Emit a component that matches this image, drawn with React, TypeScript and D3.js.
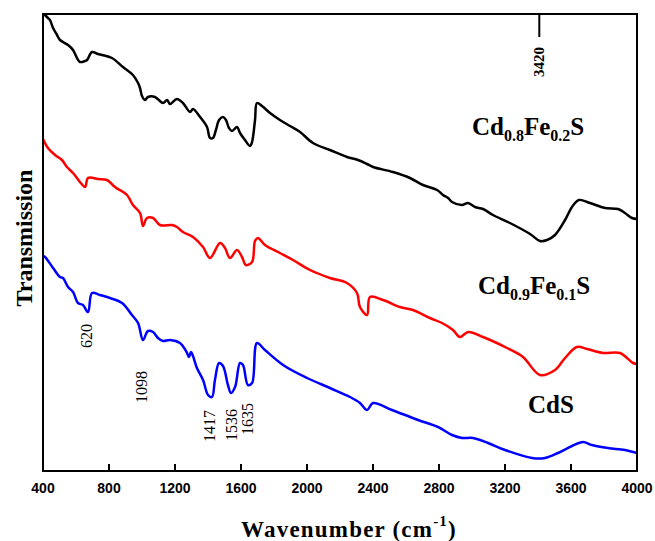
import React from "react";
import * as d3 from "d3";

// ---------- data (wavenumber in cm^-1, transmission in arbitrary units) ----------
const blackWn = [400, 412, 430, 442, 461, 485, 503, 552, 582, 606, 624, 655, 667, 697, 733, 758, 818, 885, 945, 976, 988, 1000, 1018, 1036, 1079, 1127, 1152, 1170, 1212, 1248, 1291, 1309, 1352, 1394, 1412, 1430, 1448, 1467, 1491, 1509, 1527, 1545, 1576, 1594, 1624, 1655, 1667, 1685, 1697, 1727, 1776, 1836, 1897, 1958, 2036, 2139, 2242, 2309, 2364, 2400, 2521, 2624, 2703, 2788, 2824, 2855, 2879, 2939, 2976, 3018, 3067, 3127, 3230, 3352, 3412, 3455, 3503, 3564, 3606, 3648, 3715, 3806, 3885, 3927, 3970, 4000];
const blackT = [458, 456, 453, 451, 443, 436, 431, 426, 421, 413, 409, 410, 411, 419, 417, 416, 413, 404, 396, 388, 383, 375, 371, 374, 374, 368, 371, 367, 372, 368, 359, 362, 354, 344, 333, 333, 341, 351, 354, 351, 343, 340, 344, 338, 331, 325, 329, 351, 368, 365, 358, 351, 345, 339, 328, 321, 314, 311, 307, 304, 299, 293, 286, 281, 276, 273, 269, 266, 268, 264, 262, 256, 248, 237, 230, 231, 236, 251, 264, 271, 268, 263, 262, 258, 253, 252];

const redWn = [400, 430, 473, 515, 545, 582, 624, 655, 673, 733, 788, 836, 909, 945, 988, 1006, 1030, 1067, 1109, 1182, 1212, 1248, 1309, 1370, 1412, 1473, 1503, 1533, 1576, 1606, 1630, 1667, 1685, 1703, 1745, 1836, 1915, 2018, 2139, 2242, 2303, 2321, 2364, 2382, 2461, 2564, 2642, 2745, 2818, 2885, 2927, 2976, 3067, 3212, 3309, 3412, 3503, 3564, 3636, 3697, 3794, 3897, 3976, 4000];
const redT = [332, 323, 316, 311, 304, 298, 289, 284, 293, 292, 291, 284, 276, 266, 258, 245, 253, 253, 246, 246, 244, 239, 234, 224, 213, 228, 223, 213, 221, 214, 206, 209, 230, 233, 226, 218, 211, 201, 193, 188, 178, 164, 156, 174, 171, 164, 161, 153, 148, 141, 134, 139, 134, 123, 114, 96, 101, 113, 124, 122, 118, 118, 108, 107];

const blueWn = [400, 412, 461, 503, 521, 552, 582, 612, 642, 673, 697, 745, 806, 879, 939, 976, 1006, 1036, 1067, 1097, 1127, 1170, 1230, 1270, 1285, 1297, 1309, 1333, 1370, 1400, 1424, 1442, 1467, 1491, 1521, 1539, 1564, 1594, 1612, 1642, 1667, 1697, 1745, 1855, 2000, 2139, 2261, 2321, 2364, 2400, 2515, 2673, 2794, 2879, 2939, 3006, 3097, 3200, 3364, 3442, 3521, 3606, 3673, 3727, 3824, 3927, 4000];
const blueT = [215, 214, 203, 194, 193, 184, 179, 168, 166, 159, 178, 176, 173, 168, 156, 148, 131, 140, 139, 133, 130, 131, 128, 119, 114, 119, 115, 103, 91, 76, 74, 91, 108, 105, 86, 78, 84, 108, 106, 86, 88, 128, 121, 106, 93, 83, 74, 68, 61, 68, 61, 51, 44, 36, 33, 33, 28, 21, 13, 13, 18, 25, 29, 26, 23, 21, 18];

const xTicks = [400, 800, 1200, 1600, 2000, 2400, 2800, 3200, 3600, 4000];

const peakLabels = ["620", "1098", "1417", "1536", "1635"];
const peakWn = [665, 1000, 1415, 1545, 1645];
const peakT = [135, 84, 45, 46, 52];

const markerLabel = "3420";
const markerWn = 3420;

const W = 655;
const H = 541;
const M = { left: 43, right: 637, top: 14, bottom: 471 };

export default function App() {
  const x = d3.scaleLinear().domain([400, 4000]).range([M.left, M.right]);
  const y = d3.scaleLinear().domain([0, 457]).range([M.bottom, M.top]);

  const line = d3
    .line<[number, number]>()
    .x((d) => x(d[0]))
    .y((d) => y(d[1]))
    .curve(d3.curveCatmullRom.alpha(0.5));

  const series = [
    { wn: blackWn, t: blackT, color: "#000000" },
    { wn: redWn, t: redT, color: "#ff0000" },
    { wn: blueWn, t: blueT, color: "#0000ff" },
  ];

  const serif = "'Liberation Serif', 'Times New Roman', serif";
  const sans = "'Liberation Sans', Arial, sans-serif";

  return (
    <svg
      width={W}
      height={H}
      style={{ position: "absolute", left: 0, top: 0, background: "#fff" }}
    >
      <defs>
        <clipPath id="plotclip">
          <rect x={M.left} y={M.top} width={M.right - M.left} height={M.bottom - M.top} />
        </clipPath>
      </defs>
      <rect x={0} y={0} width={W} height={H} fill="#fff" />

      <g clipPath="url(#plotclip)">
        {series.map((s, i) => (
          <path
            key={i}
            d={line(s.wn.map((w, j) => [w, s.t[j]] as [number, number])) || ""}
            fill="none"
            stroke={s.color}
            strokeWidth={2.5}
            strokeLinejoin="round"
            strokeLinecap="round"
          />
        ))}
      </g>

      {/* frame */}
      <rect
        x={M.left}
        y={M.top}
        width={M.right - M.left}
        height={M.bottom - M.top}
        fill="none"
        stroke="#000"
        strokeWidth={2}
      />

      {/* x ticks */}
      {xTicks.map((t) => (
        <g key={t}>
          <line x1={x(t)} x2={x(t)} y1={M.bottom} y2={M.bottom - 7} stroke="#000" strokeWidth={2} />
          <text
            x={x(t)}
            y={493}
            textAnchor="middle"
            fontFamily={sans}
            fontWeight="bold"
            fontSize={14}
          >
            {t}
          </text>
        </g>
      ))}

      {/* 3420 marker */}
      <line x1={x(markerWn) - 2} x2={x(markerWn) - 2} y1={M.top} y2={37} stroke="#000" strokeWidth={2} />
      <text
        transform={`translate(${x(markerWn) + 3},${62}) rotate(-90)`}
        textAnchor="middle"
        fontFamily={serif}
        fontWeight="bold"
        fontSize={15}
      >
        {markerLabel}
      </text>

      {/* peak labels */}
      {peakLabels.map((l, i) => (
        <text
          key={l}
          transform={`translate(${x(peakWn[i]) + 5},${y(peakT[i])}) rotate(-90)`}
          textAnchor="middle"
          fontFamily={serif}
          fontSize={16}
        >
          {l}
        </text>
      ))}

      {/* sample labels */}
      <text x={472} y={135} fontFamily={serif} fontWeight="bold" fontSize={25}>
        Cd<tspan fontSize={16} dy={6}>0.8</tspan>
        <tspan dy={-6}>Fe</tspan>
        <tspan fontSize={16} dy={6}>0.2</tspan>
        <tspan dy={-6}>S</tspan>
      </text>
      <text x={478} y={294} fontFamily={serif} fontWeight="bold" fontSize={25}>
        Cd<tspan fontSize={16} dy={6}>0.9</tspan>
        <tspan dy={-6}>Fe</tspan>
        <tspan fontSize={16} dy={6}>0.1</tspan>
        <tspan dy={-6}>S</tspan>
      </text>
      <text x={528} y={413} fontFamily={serif} fontWeight="bold" fontSize={25}>
        CdS
      </text>

      {/* axis titles */}
      <text
        x={349}
        y={537}
        textAnchor="middle"
        fontFamily={serif}
        fontWeight="bold"
        fontSize={23}
        letterSpacing={1.2}
      >
        Wavenumber (cm<tspan fontSize={15} dy={-11}>-1</tspan>
        <tspan dy={11}>)</tspan>
      </text>
      <text
        transform={`translate(32,238) rotate(-90)`}
        textAnchor="middle"
        fontFamily={serif}
        fontWeight="bold"
        fontSize={24}
      >
        Transmission
      </text>
    </svg>
  );
}
